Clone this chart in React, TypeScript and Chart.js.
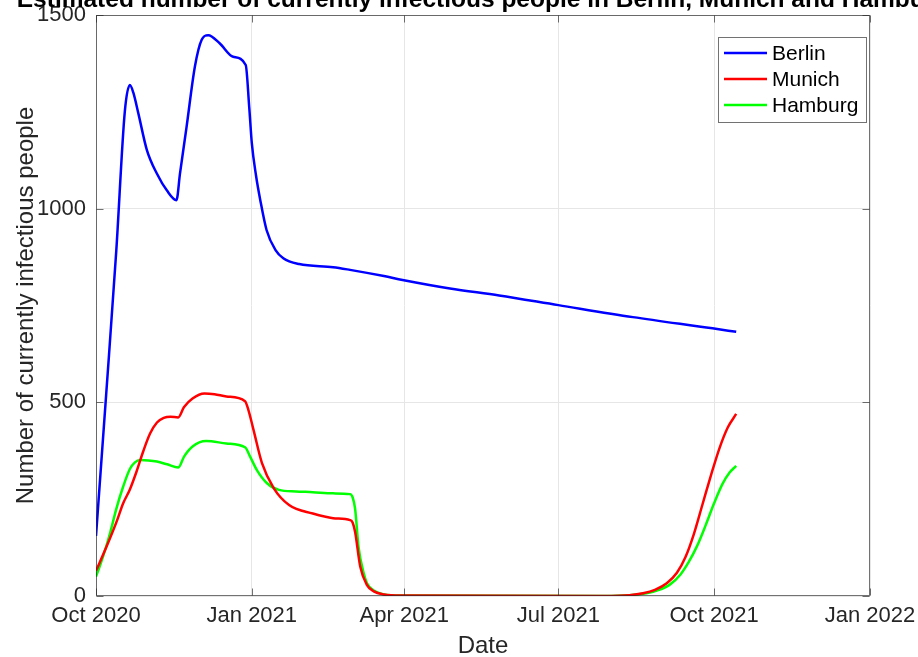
import React, { useEffect, useRef } from "react";
import { Chart, registerables } from "chart.js";

Chart.register(...registerables);

// Days since 1 Oct 2020
const tickDays = [0, 92, 182, 273, 365, 457];
const tickLabels = ["Oct 2020", "Jan 2021", "Apr 2021", "Jul 2021", "Oct 2021", "Jan 2022"];
const yTicks = [0, 500, 1000, 1500];

const berlinDays = [0, 6, 12, 17, 20, 22, 25, 30, 36, 42, 47.5, 49.6, 53.5, 58.4, 62.4, 66.3, 73, 81, 88.4, 90.5, 92, 94.5, 97, 100.7, 106, 110.6, 120, 140, 150, 170, 181, 209, 238, 273, 317, 364, 378];
const berlinValues = [155, 520, 893, 1250, 1319, 1300, 1246, 1152, 1090, 1046, 1022, 1091, 1212, 1367, 1436, 1448, 1427, 1392, 1371, 1260, 1169, 1085, 1022, 945, 893, 872, 857, 849, 842, 826, 816, 794, 776, 751, 720, 691, 682];

const munichDays = [0, 6, 12, 16, 20, 24, 28, 32, 36, 40, 44, 48.5, 52, 57, 64, 70, 77, 88, 90, 93, 98, 105, 114, 128, 140, 150, 151.5, 153, 156, 160, 164, 170, 180, 300, 315, 323, 330, 337, 343, 348, 353, 358, 363, 368, 373, 378];
const munichValues = [65, 125, 190, 239, 275, 322, 375, 420, 448, 460, 463, 461, 488, 510, 523, 521, 515, 503, 480, 429, 343, 278, 235, 213, 201, 196, 190, 165, 76, 28, 12, 4, 1, 0, 2, 7, 16, 33, 60, 100, 160, 235, 310, 380, 435, 470];

const hamburgDays = [0, 4, 8.3, 12, 16, 20, 23, 26, 31, 36, 42, 48.6, 52, 57, 65, 77, 88, 91, 95, 101, 108, 118, 128, 140, 150, 151.5, 153, 155, 158, 160, 164, 170, 180, 300, 315, 325, 332, 339, 345, 350, 355, 360, 365, 370, 374, 378];
const hamburgValues = [50, 100, 162, 225, 282, 328, 345, 351, 350, 347, 340, 332, 360, 386, 400, 394, 384, 360, 325, 291, 274, 270, 268, 265, 263, 255, 225, 127, 60, 33, 14, 4, 1, 0, 2, 7, 15, 30, 55, 88, 130, 183, 240, 290, 318, 336];

const seriesNames = ["Berlin", "Munich", "Hamburg"];
const seriesColors = ["#0000ff", "#ff0000", "#00ff00"];

const FONT = "'Liberation Sans', Arial, Helvetica, sans-serif";
const TEXT = "#262626";

const toPoints = (d: number[], v: number[]) => d.map((x, i) => ({ x, y: v[i] }));

const decorPlugin = {
  id: "decor",
  afterDraw(chart: any) {
    const ctx = chart.ctx as CanvasRenderingContext2D;
    const a = chart.chartArea;
    const xs = chart.scales.x;
    const ys = chart.scales.y;
    ctx.save();
    // box
    ctx.strokeStyle = "rgba(38,38,38,0.65)";
    ctx.lineWidth = 1;
    const L = Math.round(a.left) + 0.5, R = Math.round(a.right) - 0.5;
    const T = Math.round(a.top) + 0.5, B = Math.round(a.bottom) - 0.5;
    ctx.strokeRect(L, T, R - L, B - T);
    // inward ticks
    ctx.beginPath();
    const tl = 7;
    tickDays.forEach((d) => {
      const px = Math.round(xs.getPixelForValue(d)) + 0.5;
      ctx.moveTo(px, B); ctx.lineTo(px, B - tl);
      ctx.moveTo(px, T); ctx.lineTo(px, T + tl);
    });
    yTicks.forEach((v) => {
      const py = Math.round(ys.getPixelForValue(v)) + 0.5;
      ctx.moveTo(L, py); ctx.lineTo(L + tl, py);
      ctx.moveTo(R, py); ctx.lineTo(R - tl, py);
    });
    ctx.stroke();

    // title
    ctx.fillStyle = "#000";
    ctx.font = `bold 24.5px ${FONT}`;
    ctx.textAlign = "center";
    ctx.textBaseline = "alphabetic";
    ctx.fillText(
      "Estimated number of currently infectious people in Berlin, Munich and Hamburg",
      (a.left + a.right) / 2,
      7
    );

    // axis titles
    ctx.fillStyle = TEXT;
    ctx.font = `24px ${FONT}`;
    ctx.fillText("Date", (a.left + a.right) / 2, 653);
    ctx.save();
    ctx.translate(33, (a.top + a.bottom) / 2);
    ctx.rotate(-Math.PI / 2);
    ctx.fillText("Number of currently infectious people", 0, 0);
    ctx.restore();

    // legend
    const bx = 718.5, by = 37.5, bw = 148, bh = 85;
    ctx.fillStyle = "#fff";
    ctx.fillRect(bx, by, bw, bh);
    ctx.strokeStyle = "rgba(38,38,38,0.65)";
    ctx.strokeRect(bx, by, bw, bh);
    const rows = [53, 79, 105];
    ctx.font = `21px ${FONT}`;
    ctx.textAlign = "left";
    ctx.textBaseline = "middle";
    seriesNames.forEach((n, i) => {
      ctx.strokeStyle = seriesColors[i];
      ctx.lineWidth = 2.5;
      ctx.beginPath();
      ctx.moveTo(724, rows[i]);
      ctx.lineTo(767, rows[i]);
      ctx.stroke();
      ctx.fillStyle = "#000";
      ctx.fillText(n, 772, rows[i] + 1);
    });
    ctx.restore();
  },
};

export default function App() {
  const ref = useRef<HTMLCanvasElement | null>(null);
  useEffect(() => {
    document.body.style.margin = "0";
    const canvas = ref.current!;
    const data = [
      toPoints(berlinDays, berlinValues),
      toPoints(munichDays, munichValues),
      toPoints(hamburgDays, hamburgValues),
    ];
    const chart = new Chart(canvas, {
      type: "line",
      data: {
        datasets: data.map((pts, i) => ({
          label: seriesNames[i],
          data: pts,
          borderColor: seriesColors[i],
          backgroundColor: seriesColors[i],
          borderWidth: 2.5,
          pointRadius: 0,
          fill: false,
          tension: 0.4,
          cubicInterpolationMode: "monotone" as const,
        })),
      },
      options: {
        animation: false,
        responsive: false,
        devicePixelRatio: 1,
        layout: { padding: { top: 15, right: 48, left: 0, bottom: 0 } },
        plugins: {
          legend: { display: false },
          title: { display: false },
          tooltip: { enabled: false },
        },
        scales: {
          x: {
            type: "linear",
            min: 0,
            max: 457,
            afterBuildTicks: (s: any) => {
              s.ticks = tickDays.map((v) => ({ value: v }));
            },
            afterFit: (s: any) => {
              s.height = 61;
              s.paddingLeft = 0;
              s.paddingRight = 0;
            },
            grid: { color: "#e6e6e6", drawTicks: false },
            border: { display: false },
            ticks: {
              autoSkip: false,
              maxRotation: 0,
              padding: 7,
              color: TEXT,
              font: { family: FONT, size: 22 },
              callback: (v: any) => {
                const i = tickDays.indexOf(Number(v));
                return i >= 0 ? tickLabels[i] : "";
              },
            },
          },
          y: {
            type: "linear",
            min: 0,
            max: 1500,
            afterBuildTicks: (s: any) => {
              s.ticks = yTicks.map((v) => ({ value: v }));
            },
            afterFit: (s: any) => {
              s.width = 96;
              s.paddingTop = 0;
              s.paddingBottom = 0;
            },
            grid: { color: "#e6e6e6", drawTicks: false },
            border: { display: false },
            ticks: {
              padding: 10,
              color: TEXT,
              font: { family: FONT, size: 22 },
              callback: (v: any) => String(v),
            },
          },
        },
      },
      plugins: [decorPlugin],
    });
    return () => chart.destroy();
  }, []);
  return (
    <div style={{ position: "absolute", left: 0, top: 0, width: 918, height: 657 }}>
      <canvas ref={ref} width={918} height={657} style={{ width: 918, height: 657, display: "block" }} />
    </div>
  );
}
